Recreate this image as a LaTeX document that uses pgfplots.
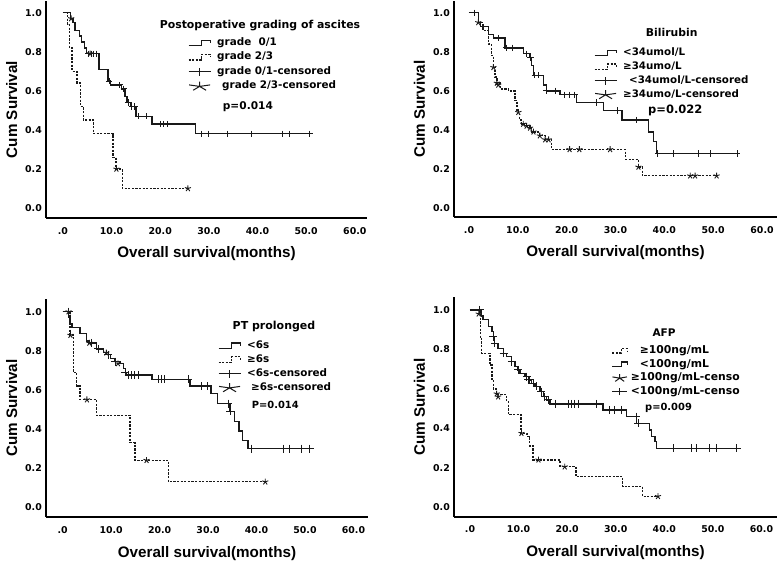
\documentclass[border=0pt]{standalone}
\usepackage{pgfplots}
\pgfplotsset{compat=1.18}
\usepackage{fontspec}
\setmainfont{DejaVu Sans}
\newfontfamily\lib{Liberation Sans}
\newcommand{\fs}[1]{\fontsize{#1}{#1}\selectfont}
\pgfplotsset{
  kmaxis/.style={
    scale only axis,
    axis lines*=left,
    axis line style={-, line width=1.7pt, black},
    xtick={0,10,20,30,40,50,60},
    xticklabels={.0,10.0,20.0,30.0,40.0,50.0,60.0},
    ytick={0,0.2,0.4,0.6,0.8,1.0},
    yticklabels={0.0,0.2,0.4,0.6,0.8,1.0},
    major tick length=0pt,
    tick style={draw=none},
    tick label style={font=\bfseries\fs{9.4}, inner sep=0pt, text=black},
    xticklabel style={yshift=-9pt},
    yticklabel style={xshift=-4pt},
    xlabel={Overall survival(months)},
    ylabel={Cum Survival},
    label style={font=\lib\bfseries\fs{15.2}, inner sep=0pt},
    xlabel style={at={(axis description cs:0.5,0)}, anchor=base, yshift=-40pt},
    ylabel style={at={(axis description cs:-0.09,0.5)}, anchor=base},
    clip=false,
    legend cell align=left,
  },
  legsty/.style={legend style={draw=none, fill=none, inner sep=0pt, outer sep=0pt,
      anchor=north west, cells={anchor=west},
      nodes={inner sep=0pt, text height=7pt, text depth=2pt, font=\bfseries\fs{#1}},
      /tikz/every odd column/.append style={column sep=6pt}}},
  surv/.style={const plot, line width=1.35pt, black!90, mark=none},
  survd/.style={const plot, line width=1.35pt, black!90, mark=none, dash pattern=on 2.2pt off 1.4pt},
  cens/.style={only marks, mark=+, mark size=3.2pt, mark options={line width=1pt, black!90}},
  censs/.style={only marks, mark=star, mark size=3.2pt, mark options={line width=0.9pt, black!90}},
}
\begin{document}
\begin{tikzpicture}[x=1pt,y=1pt]
\useasboundingbox (0,0) rectangle (777,560);

% ---------------- Panel 1 ----------------
\begin{axis}[kmaxis, at={(46pt,342pt)}, anchor=south west, width=321pt, height=217pt,
  xmin=-3.47, xmax=62.5, ymin=-0.051, ymax=1.06,
  legsty=10.4, legend style={at={(0.4424,0.8258)}, row sep=5.2pt}]
\addplot[surv, forget plot] coordinates {(0,1.00)(1.6,0.97)(2.1,0.95)(2.5,0.91)(3.4,0.88)(3.8,0.85)(4.5,0.82)(4.9,0.79)(7.4,0.71)(9.3,0.65)(9.8,0.63)(12.0,0.61)(12.8,0.57)(13.2,0.54)(14.0,0.52)(15.0,0.47)(18.3,0.43)(27.2,0.38)(51.1,0.38)};
\addplot[survd, forget plot] coordinates {(0,1.0)(1.0,0.94)(1.4,0.82)(1.9,0.70)(2.9,0.64)(3.6,0.52)(4.2,0.45)(6.3,0.38)(10.3,0.26)(10.9,0.20)(12.2,0.10)(25.7,0.10)};
\addplot[cens, forget plot] coordinates {(5.3,0.79)(5.8,0.79)(6.2,0.79)(7.0,0.79)(9.5,0.65)(11.6,0.63)(12.5,0.61)(13.4,0.54)(14.2,0.52)(14.7,0.52)(15.5,0.47)(17.2,0.47)(20.0,0.43)(20.6,0.43)(21.5,0.43)(28.5,0.38)(30.0,0.38)(33.9,0.38)(38.7,0.38)(45.2,0.38)(46.6,0.38)(50.7,0.38)};
\addplot[censs, forget plot] coordinates {(1.7,0.97)(5.6,0.79)(11.0,0.20)(25.7,0.10)};
\addlegendimage{legend image code/.code={\draw[line width=1.2pt,black!90] (0pt,-2.5pt) -- (13pt,-2.5pt) -- (13pt,3pt) -- (22pt,3pt) -- (22pt,0pt);}}
\addlegendentry{grade~~0/1}
\addlegendimage{legend image code/.code={\draw[line width=1.2pt,black!90,dash pattern=on 2.2pt off 1.4pt] (0pt,-2.5pt) -- (13pt,-2.5pt) -- (13pt,3pt) -- (22pt,3pt) -- (22pt,0pt);}}
\addlegendentry{grade 2/3}
\addlegendimage{legend image code/.code={\draw[line width=1.2pt,black!90] (0pt,0pt) -- (22pt,0pt) (11pt,-4pt) -- (11pt,4pt);}}
\addlegendentry{grade 0/1-censored}
\addlegendimage{legend image code/.code={\draw[line width=1pt,black!90] plot[only marks, mark=star, mark size=4.8pt, mark options={xscale=2.3}] coordinates {(11pt,0pt)};}}
\addlegendentry{\hspace{5pt}grade 2/3-censored}
\end{axis}
\node[font=\bfseries\fs{10.9}, anchor=base, inner sep=0pt] at (260,531.7) {Postoperative grading of ascites};
\node[font=\bfseries\fs{10.6}, anchor=base west, inner sep=0pt] at (222.7,450.7) {p=0.014};

% ---------------- Panel 2 ----------------
\begin{axis}[kmaxis, at={(454pt,343pt)}, anchor=south west, width=323pt, height=216pt,
  xmin=-3.07, xmax=63.07, ymin=-0.046, ymax=1.06,
  legsty=10.3, legend style={at={(0.4334,0.7787)}, row sep=4.7pt}]
\addplot[surv, forget plot] coordinates {(0,1.0)(1.9,0.95)(2.3,0.93)(4.0,0.89)(5.0,0.87)(7.4,0.82)(11.1,0.79)(12.5,0.77)(12.8,0.73)(13.2,0.68)(15.2,0.63)(15.9,0.60)(18.6,0.58)(22.0,0.54)(27.5,0.50)(31.3,0.45)(36.7,0.39)(37.8,0.34)(38.4,0.28)(55.2,0.28)};
\addplot[survd, forget plot] coordinates {(0,1.0)(1.9,0.95)(2.9,0.91)(4.0,0.84)(4.6,0.78)(5.0,0.72)(5.3,0.67)(5.7,0.64)(6.4,0.61)(8.1,0.60)(9.4,0.55)(9.8,0.50)(10.1,0.48)(10.4,0.45)(10.8,0.43)(11.8,0.42)(12.8,0.39)(14.5,0.37)(15.6,0.35)(16.9,0.30)(32.0,0.25)(34.7,0.21)(35.5,0.165)(50.7,0.165)};
\addplot[cens, forget plot] coordinates {(1.2,1.0)(6.0,0.87)(7.6,0.82)(9.0,0.82)(11.8,0.79)(12.6,0.77)(13.5,0.68)(14.2,0.68)(15.9,0.60)(17.8,0.60)(19.6,0.58)(20.6,0.58)(21.6,0.58)(26.2,0.54)(30.5,0.50)(34.2,0.45)(38.7,0.28)(41.9,0.28)(47.0,0.28)(49.4,0.28)(54.9,0.28)};
\addplot[censs, forget plot] coordinates {(1.9,0.95)(5.0,0.72)(5.7,0.64)(6.0,0.63)(10.1,0.49)(11.1,0.43)(11.8,0.42)(12.5,0.41)(13.2,0.39)(14.5,0.37)(15.6,0.35)(16.3,0.35)(20.6,0.30)(22.6,0.30)(28.9,0.30)(34.7,0.21)(45.3,0.165)(46.3,0.165)(50.7,0.165)};
\addlegendimage{legend image code/.code={\draw[line width=1.2pt,black!90] (0pt,-2.5pt) -- (13pt,-2.5pt) -- (13pt,3pt) -- (22pt,3pt) -- (22pt,0pt);}}
\addlegendentry{<34umol/L}
\addlegendimage{legend image code/.code={\draw[line width=1.2pt,black!90,dash pattern=on 2.2pt off 1.4pt] (0pt,-2.5pt) -- (13pt,-2.5pt) -- (13pt,3pt) -- (22pt,3pt) -- (22pt,0pt);}}
\addlegendentry{≥34umo/L}
\addlegendimage{legend image code/.code={\draw[line width=1.2pt,black!90] (0pt,0pt) -- (22pt,0pt) (11pt,-4pt) -- (11pt,4pt);}}
\addlegendentry{\hspace{6pt}<34umol/L-censored}
\addlegendimage{legend image code/.code={\draw[line width=1pt,black!90] plot[only marks, mark=star, mark size=4.8pt, mark options={xscale=2.3}] coordinates {(11pt,0pt)};}}
\addlegendentry{≥34umo/L-censored}
\end{axis}
\node[font=\bfseries\fs{10.8}, anchor=base, inner sep=0pt] at (671.7,523.3) {Bilirubin};
\node[font=\bfseries\fs{11.5}, anchor=base west, inner sep=0pt] at (648,446) {p=0.022};

% ---------------- Panel 3 ----------------
\begin{axis}[kmaxis, at={(46pt,43pt)}, anchor=south west, width=322pt, height=218pt,
  xmin=-3.45, xmax=63.0, ymin=-0.05, ymax=1.065,
  cens/.append style={mark size=4pt},
  legsty=10.4, legend style={at={(0.534,0.805)}, row sep=4.8pt}]
\addplot[surv, forget plot] coordinates {(0,1.0)(1.2,0.97)(1.5,0.94)(1.9,0.92)(3.6,0.89)(4.9,0.85)(5.3,0.84)(7.0,0.81)(8.4,0.79)(9.4,0.78)(9.8,0.76)(10.8,0.745)(11.8,0.735)(12.5,0.71)(12.9,0.69)(13.2,0.676)(18.4,0.654)(26.3,0.62)(30.6,0.58)(32.0,0.53)(34.5,0.49)(35.4,0.44)(36.4,0.39)(37.1,0.34)(38.2,0.30)(51.4,0.30)};
\addplot[survd, forget plot] coordinates {(0,1.0)(1.5,0.88)(2.2,0.69)(2.9,0.62)(3.6,0.55)(7.0,0.47)(13.9,0.33)(14.9,0.24)(21.8,0.13)(41.8,0.13)};
\addplot[cens, forget plot] coordinates {(1.2,1.0)(6.0,0.84)(7.3,0.81)(9.4,0.78)(10.8,0.745)(12.9,0.69)(13.6,0.676)(14.2,0.676)(14.9,0.676)(15.6,0.676)(19.8,0.654)(20.4,0.654)(21.1,0.654)(25.9,0.654)(28.6,0.62)(29.9,0.62)(34.2,0.53)(34.6,0.49)(39.0,0.30)(45.5,0.30)(46.9,0.30)(49.3,0.30)(51.0,0.30)};
\addplot[censs, forget plot] coordinates {(1.2,1.0)(1.6,0.88)(5.5,0.84)(9.0,0.79)(11.4,0.735)(5.0,0.55)(17.3,0.24)(41.8,0.13)};
\addlegendimage{legend image code/.code={\draw[line width=1.2pt,black!90] (0pt,-2.5pt) -- (13pt,-2.5pt) -- (13pt,3pt) -- (22pt,3pt) -- (22pt,0pt);}}
\addlegendentry{<6s}
\addlegendimage{legend image code/.code={\draw[line width=1.2pt,black!90,dash pattern=on 2.2pt off 1.4pt] (0pt,-2.5pt) -- (13pt,-2.5pt) -- (13pt,3pt) -- (22pt,3pt) -- (22pt,0pt);}}
\addlegendentry{≥6s}
\addlegendimage{legend image code/.code={\draw[line width=1.2pt,black!90] (0pt,0pt) -- (22pt,0pt) (11pt,-4pt) -- (11pt,4pt);}}
\addlegendentry{<6s-censored}
\addlegendimage{legend image code/.code={\draw[line width=1pt,black!90] plot[only marks, mark=star, mark size=4.8pt, mark options={xscale=2.3}] coordinates {(11pt,0pt)};}}
\addlegendentry{\hspace{4pt}≥6s-censored}
\end{axis}
\node[font=\bfseries\fs{11}, anchor=base, inner sep=0pt] at (274,230) {PT prolonged};
\node[font=\bfseries\fs{9.9}, anchor=base west, inner sep=0pt] at (251.7,151.7) {P=0.014};

% ---------------- Panel 4 ----------------
\begin{axis}[kmaxis, at={(454pt,43.3pt)}, anchor=south west, width=323pt, height=219.4pt,
  xmin=-3.29, xmax=63.2, ymin=-0.048, ymax=1.064,
  cens/.append style={mark size=4pt},
  legsty=10.8, legend style={at={(0.488,0.776)}, row sep=4.6pt,
     /tikz/every odd column/.append style={column sep=3pt}}]
\addplot[surv, forget plot] coordinates {(0,1.0)(2.4,0.97)(2.7,0.95)(3.8,0.915)(4.5,0.89)(4.8,0.865)(5.1,0.83)(5.8,0.806)(6.9,0.78)(7.5,0.764)(8.6,0.738)(9.3,0.713)(9.9,0.696)(10.3,0.679)(11.3,0.662)(12.0,0.645)(12.7,0.628)(13.4,0.612)(14.4,0.586)(15.1,0.561)(15.8,0.544)(16.5,0.524)(27.4,0.493)(32.2,0.459)(34.3,0.426)(37.0,0.392)(37.4,0.358)(38.1,0.333)(38.4,0.299)(55.2,0.299)};
\addplot[survd, forget plot] coordinates {(0,1.0)(2.1,0.86)(2.4,0.78)(4.1,0.72)(4.5,0.64)(4.8,0.60)(5.5,0.57)(7.5,0.54)(7.9,0.47)(10.5,0.375)(11.7,0.36)(12.3,0.31)(13.0,0.24)(18.5,0.205)(21.8,0.155)(31.4,0.105)(35.5,0.055)(38.7,0.055)};
\addplot[cens, forget plot] coordinates {(2.0,1.0)(4.8,0.865)(5.1,0.83)(6.9,0.78)(8.6,0.738)(9.9,0.696)(11.7,0.662)(12.0,0.645)(12.3,0.645)(13.0,0.628)(13.7,0.612)(14.7,0.586)(15.4,0.561)(16.1,0.544)(17.5,0.524)(20.2,0.524)(20.9,0.524)(21.6,0.524)(22.3,0.524)(26.1,0.524)(28.8,0.493)(29.8,0.493)(31.2,0.493)(34.2,0.459)(34.6,0.426)(41.8,0.299)(45.6,0.299)(46.6,0.299)(49.4,0.299)(50.7,0.299)(54.9,0.299)};
\addplot[censs, forget plot] coordinates {(1.8,0.98)(5.5,0.575)(5.8,0.56)(10.6,0.375)(14.1,0.24)(19.5,0.205)(38.7,0.055)};
\addlegendimage{legend image code/.code={\draw[line width=1.2pt,black!90,dash pattern=on 2.2pt off 1.4pt] (0pt,-2pt) -- (9pt,-2pt) -- (9pt,2.5pt) -- (15pt,2.5pt) -- (15pt,0pt);}}
\addlegendentry{\hspace{9pt}≥100ng/mL}
\addlegendimage{legend image code/.code={\draw[line width=1.2pt,black!90] (0pt,-2pt) -- (9pt,-2pt) -- (9pt,2.5pt) -- (15pt,2.5pt) -- (15pt,0pt);}}
\addlegendentry{\hspace{9pt}<100ng/mL}
\addlegendimage{legend image code/.code={\draw[line width=1pt,black!90] plot[only marks, mark=star, mark size=4pt, mark options={xscale=1.9}] coordinates {(7.5pt,0pt)};}}
\addlegendentry{≥100ng/mL-censo}
\addlegendimage{legend image code/.code={\draw[line width=1.2pt,black!90] (0pt,0pt) -- (15pt,0pt) (7.5pt,-3.5pt) -- (7.5pt,3.5pt);}}
\addlegendentry{<100ng/mL-censo}
\end{axis}
\node[font=\bfseries\fs{10.5}, anchor=base, inner sep=0pt] at (664,223.3) {AFP};
\node[font=\bfseries\fs{9.9}, anchor=base west, inner sep=0pt] at (645,149.3) {p=0.009};
\end{tikzpicture}
\end{document}
